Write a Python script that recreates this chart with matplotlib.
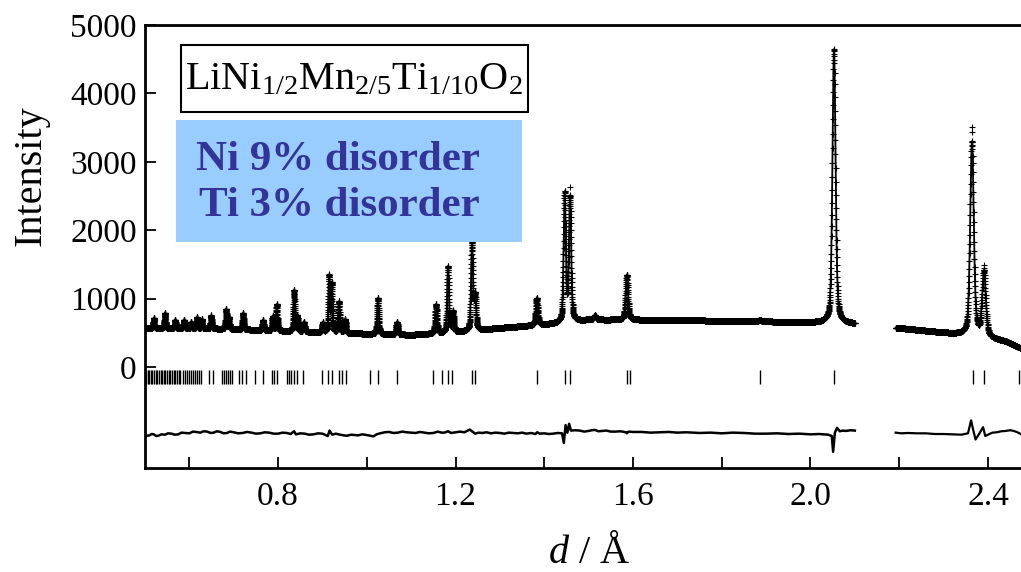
import numpy as np
import matplotlib
matplotlib.use('Agg')
import matplotlib.pyplot as plt
from matplotlib.patches import Rectangle
from matplotlib.ticker import FixedLocator, FixedFormatter

plt.rcParams['font.family'] = ['Liberation Serif', 'DejaVu Serif']
plt.rcParams['mathtext.fontset'] = 'custom'
plt.rcParams['mathtext.rm'] = 'Liberation Serif'
plt.rcParams['mathtext.it'] = 'Liberation Serif:italic'
plt.rcParams['mathtext.bf'] = 'Liberation Serif:bold'

# ---------------- data ----------------
seg1_range = (0.500, 2.100)
seg2_range = (2.192, 2.475)
step_rel = 0.00016          # relative d step of the measurement points

bg_d = [0.50, 0.60, 0.70, 0.80, 0.90, 1.00, 1.10, 1.20, 1.30, 1.40, 1.44,
        1.50, 1.60, 1.70, 1.80, 1.90, 2.00, 2.10,
        2.19, 2.25, 2.30, 2.34, 2.40, 2.44, 2.475]
bg_I = [575, 570, 555, 530, 505, 485, 470, 505, 570, 620, 640,
        690, 690, 685, 675, 665, 650, 630,
        575, 535, 500, 470, 420, 370, 270]

peak_d = [0.520, 0.545, 0.568, 0.588, 0.604, 0.617, 0.628, 0.649, 0.683, 0.689,
          0.721, 0.766, 0.788, 0.797, 0.836, 0.843, 0.858, 0.901, 0.915, 0.921,
          0.937, 0.951, 1.025, 1.068, 1.156, 1.183, 1.194, 1.237, 1.244, 1.383,
          1.446, 1.458, 1.514, 1.586, 1.886, 2.053, 2.364, 2.391]
peak_h = [145, 220, 120, 120, 90, 160, 130, 190, 290, 170,
          240, 150, 210, 385, 600, 230, 140, 140, 820, 700,
          455, 200, 530, 185, 425, 970, 300, 1265, 500, 395,
          1880, 1810, 60, 660, 20, 4010, 2840, 950]

obs_extra_d = [1.458, 2.364, 2.364, 2.391, 2.391]
obs_extra_I = [2630, 3510, 3440, 1490, 1450]

refl_d = [0.502, 0.506, 0.509, 0.513, 0.516, 0.520, 0.524, 0.527, 0.531, 0.535,
          0.538, 0.542, 0.545, 0.549, 0.553, 0.557, 0.561, 0.565, 0.568, 0.572,
          0.576, 0.580, 0.586, 0.590, 0.595, 0.600, 0.604, 0.609, 0.613, 0.617,
          0.622, 0.627, 0.644, 0.653, 0.674, 0.678, 0.683, 0.687, 0.692, 0.697,
          0.712, 0.719, 0.728, 0.748, 0.766, 0.786, 0.790, 0.797, 0.820, 0.825,
          0.830, 0.836, 0.843, 0.856, 0.899, 0.912, 0.921, 0.937, 0.944, 0.953,
          1.007, 1.025, 1.068, 1.149, 1.169, 1.183, 1.192, 1.237, 1.244, 1.383,
          1.446, 1.458, 1.586, 1.593, 1.886, 2.053, 2.366, 2.391, 2.470]
refl_level = -140

diff_d = [0.500, 0.505, 0.510, 0.515, 0.520, 0.525, 0.530, 0.537, 0.545, 0.552,
          0.560, 0.567, 0.575, 0.582, 0.590, 0.600, 0.608, 0.615, 0.625, 0.632,
          0.640, 0.648, 0.655, 0.662, 0.670, 0.677, 0.685, 0.692, 0.700, 0.710,
          0.720, 0.730, 0.740, 0.750, 0.760, 0.770, 0.780, 0.790, 0.800, 0.810,
          0.820, 0.828, 0.836, 0.840, 0.850, 0.860, 0.870, 0.880, 0.890, 0.900,
          0.912, 0.916, 0.922, 0.930, 0.940, 0.948, 0.955, 0.965, 0.980, 0.990,
          1.000, 1.008, 1.015, 1.022, 1.030, 1.040, 1.050, 1.060, 1.070, 1.080,
          1.090, 1.100, 1.110, 1.120, 1.130, 1.140, 1.150, 1.160, 1.168, 1.175,
          1.183, 1.190, 1.200, 1.210, 1.220, 1.232, 1.238, 1.244, 1.252, 1.260,
          1.270, 1.280, 1.290, 1.300, 1.310, 1.320, 1.330, 1.340, 1.350, 1.360,
          1.370, 1.380, 1.384, 1.390, 1.400, 1.410, 1.420, 1.430, 1.440, 1.444,
          1.448, 1.452, 1.456, 1.460, 1.470, 1.480, 1.490, 1.500, 1.507, 1.514,
          1.522, 1.530, 1.540, 1.550, 1.560, 1.572, 1.584, 1.586, 1.590, 1.600,
          1.620, 1.640, 1.660, 1.680, 1.700, 1.720, 1.750, 1.775, 1.800, 1.825,
          1.850, 1.875, 1.900, 1.925, 1.950, 1.975, 2.000, 2.020, 2.040, 2.048,
          2.051, 2.055, 2.060, 2.066, 2.073, 2.080, 2.090, 2.100,
          2.192, 2.205, 2.220, 2.240, 2.260, 2.280, 2.300, 2.320, 2.340, 2.355,
          2.362, 2.366, 2.372, 2.380, 2.389, 2.394, 2.400, 2.410, 2.420, 2.430,
          2.440, 2.450, 2.455, 2.465, 2.475]
diff_I = [-990, -1005, -1000, -980, -985, -1010, -1005, -985, -990, -970,
          -975, -990, -985, -960, -965, -970, -945, -950, -960, -940,
          -945, -965, -960, -940, -950, -970, -965, -945, -955, -970,
          -965, -950, -960, -975, -970, -955, -960, -975, -975, -960,
          -965, -980, -940, -985, -970, -975, -990, -985, -970, -975,
          -1010, -930, -990, -975, -990, -1000, -1005, -990, -1000, -985,
          -995, -1005, -1015, -985, -970, -955, -950, -965, -960, -945,
          -955, -960, -965, -950, -960, -970, -965, -945, -960, -960,
          -940, -965, -955, -945, -955, -915, -945, -975, -960, -965,
          -955, -970, -960, -965, -975, -960, -965, -970, -960, -975,
          -965, -980, -955, -975, -970, -980, -975, -965, -970, -1110,
          -850, -960, -830, -930, -925, -930, -945, -935, -925, -920,
          -940, -935, -930, -945, -945, -940, -955, -970, -945, -950,
          -950, -960, -955, -950, -960, -955, -965, -960, -970, -960,
          -965, -975, -975, -970, -980, -975, -985, -980, -990, -1010,
          -1240, -960, -890, -940, -930, -935, -925, -930,
          -960, -970, -965, -970, -970, -980, -980, -985, -990, -970,
          -780, -900, -1060, -980, -880, -1010, -990, -960, -955, -940,
          -935, -925, -930, -950, -985]

xtick_vals = [0.6, 0.8, 1.0, 1.2, 1.4, 1.6, 1.8, 2.0, 2.2, 2.4]
xtick_labels = ['', '0.8', '', '1.2', '', '1.6', '', '2.0', '', '2.4']
ytick_vals = [0, 1000, 2000, 3000, 4000, 5000]
ytick_labels = ['0', '1000', '2000', '3000', '4000', '5000']

formula = r'$\mathrm{LiNi_{1/2}Mn_{2/5}Ti_{1/10}O_2}$'
note_lines = ['Ni 9% disorder', 'Ti 3% disorder']

# ---------------- profile rendering ----------------
resolution = 0.0040   # FWHM / d
eta = 0.45


def profile(d):
    y = np.interp(d, bg_d, bg_I)
    for p, h in zip(peak_d, peak_h):
        fw = resolution * p
        x = (d - p) / fw
        y = y + h * ((1 - eta) * np.exp(-4 * np.log(2) * x ** 2) + eta / (1 + 4 * x ** 2))
    return y


def grid(lo, hi):
    n = int(np.log(hi / lo) / step_rel) + 1
    return lo * np.exp(np.arange(n) * step_rel)


d1 = grid(*seg1_range)
d2 = grid(*seg2_range)
c1 = profile(d1)
c2 = profile(d2)

# ---------------- figure ----------------
W, H = 1021, 572
fig = plt.figure(figsize=(W / 100, H / 100), dpi=100)
ax = fig.add_axes([145 / W, 104 / H, 880 / W, 443 / H])

mk = dict(ls='none', marker='+', ms=4.2, mew=0.8, color='black', zorder=3)
ax.plot(d1, c1, **mk)
ax.plot(d2, c2, **mk)
ax.plot(obs_extra_d, obs_extra_I, **mk)
ax.plot(d1, c1, color='black', lw=1.3, zorder=4)
ax.plot(d2, c2, color='black', lw=1.3, zorder=4)

ax.plot(refl_d, [refl_level] * len(refl_d), ls='none', marker='|', ms=9.5,
        mew=1.0, color='black')

dd = np.array(diff_d)
di = np.array(diff_I)
m1 = dd <= seg1_range[1]
ax.plot(dd[m1], di[m1], color='black', lw=1.8)
ax.plot(dd[~m1], di[~m1], color='black', lw=1.6)

ax.set_xlim(0.5, 2.4835)
ax.set_ylim(-1477, 5000)

ax.xaxis.set_major_locator(FixedLocator(xtick_vals))
ax.xaxis.set_major_formatter(FixedFormatter(xtick_labels))
ax.yaxis.set_major_locator(FixedLocator(ytick_vals))
ax.yaxis.set_major_formatter(FixedFormatter(ytick_labels))
ax.tick_params(direction='in', length=8, width=1.3, labelsize=24, colors='black')
ax.tick_params(axis='x', pad=10)
ax.tick_params(axis='y', pad=6)
for s in ['left', 'bottom', 'top']:
    ax.spines[s].set_linewidth(2.0)
ax.spines['right'].set_visible(False)

fig.text(589 / W, 0 / H, r'$d$ / Å', fontsize=29, ha='center', va='bottom')
fig.text(31 / W, (H - 176) / H, 'Intensity', fontsize=29, rotation=90,
         ha='center', va='center')

# formula box
fig.patches.append(Rectangle((181 / W, (H - 112) / H), 347 / W, 67 / H,
                             transform=fig.transFigure, facecolor='white',
                             edgecolor='black', lw=1.5, zorder=5))
fig.text(354 / W, (H - 80) / H, formula, fontsize=29, ha='center', va='center',
         zorder=6)

# blue note box
fig.patches.append(Rectangle((176 / W, (H - 242) / H), 346 / W, 122 / H,
                             transform=fig.transFigure, facecolor='#99CCFF',
                             edgecolor='none', zorder=5))
fig.text(196 / W, (H - 160) / H, note_lines[0], fontsize=31, fontweight='bold',
         color='#333399', ha='left', va='center', zorder=6)
fig.text(199 / W, (H - 206) / H, note_lines[1], fontsize=31, fontweight='bold',
         color='#333399', ha='left', va='center', zorder=6)

fig.savefig('out.png', dpi=100)
